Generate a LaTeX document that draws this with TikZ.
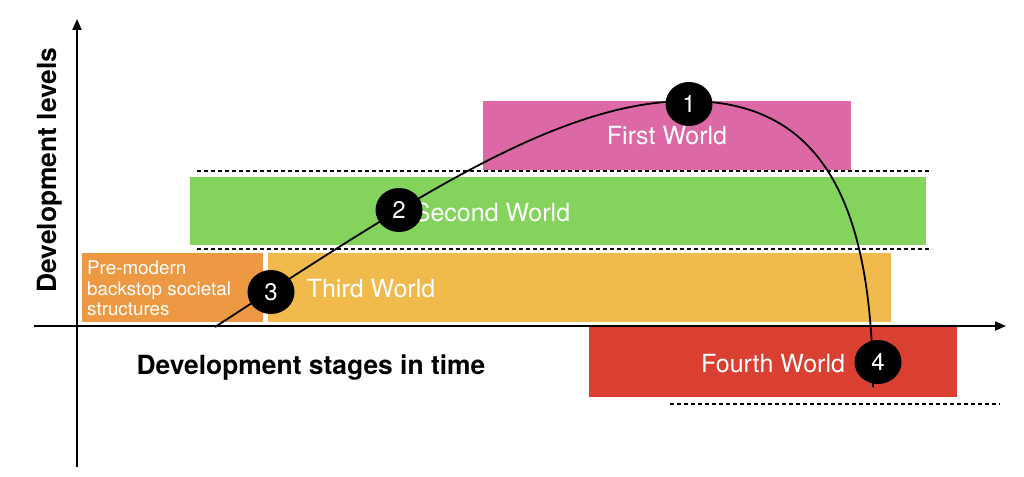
\documentclass[tikz,border=0pt]{standalone}
\usepackage{fontspec}
\setmainfont{TeX Gyre Heros}
\usetikzlibrary{arrows.meta,shapes.geometric}
\definecolor{pinkw}{RGB}{220,105,165}
\definecolor{greenw}{RGB}{131,211,93}
\definecolor{yelloww}{RGB}{240,186,77}
\definecolor{orangew}{RGB}{237,152,67}
\definecolor{redw}{RGB}{217,64,50}
\tikzset{
  box/.style={draw=none, inner sep=0pt, outer sep=0pt, anchor=north west},
  boxlabel/.style={text=white, inner sep=0pt, anchor=base, font=\fontsize{25}{25}\selectfont},
  smalllabel/.style={text=white, inner sep=0pt, anchor=base west, font=\fontsize{18.8}{18.8}\selectfont},
  axislabel/.style={text=black, inner sep=0pt, anchor=base, font=\bfseries\fontsize{26.4}{26.4}\selectfont},
  dotline/.style={line width=2pt, dash pattern=on 4pt off 3pt},
  axisline/.style={line width=2pt, -{Triangle[length=11pt,width=9pt]}},
  curveline/.style={line width=1.8pt},
  num/.style={ellipse, fill=black, text=white, inner sep=0pt, minimum width=47pt, minimum height=44pt, font=\fontsize{24}{24}\selectfont}
}
\begin{document}
\begin{tikzpicture}[x=1pt,y=-1pt]
\useasboundingbox (0,0) rectangle (1024,476);
% boxes
\node[box, fill=pinkw, minimum width=368pt, minimum height=69pt] (first) at (483,101) {};
\node[box, fill=greenw, minimum width=736pt, minimum height=68pt] (second) at (190,177) {};
\node[box, fill=yelloww, minimum width=623pt, minimum height=69pt] (third) at (268,253) {};
\node[box, fill=orangew, minimum width=181pt, minimum height=69pt] (premod) at (82,253) {};
\node[box, fill=redw, minimum width=368pt, minimum height=70pt] (fourth) at (589,327) {};
% dotted lines
\coordinate (d1a) at (197,171); \coordinate (d1b) at (932,171);
\coordinate (d2a) at (197,249); \coordinate (d2b) at (932,249);
\coordinate (d3a) at (670,404); \coordinate (d3b) at (1000,404);
\draw[dotline] (d1a) -- (d1b);
\draw[dotline] (d2a) -- (d2b);
\draw[dotline] (d3a) -- (d3b);
% labels
\node[boxlabel] (firstlab) at (667,144) {First World};
\node[boxlabel] (secondlab) at (492,221) {Second World};
\node[boxlabel] (thirdlab) at (371,297) {Third World};
\node[boxlabel] (fourthlab) at (773,372) {Fourth World};
\node[smalllabel] (pm1) at (87,274) {Pre-modern};
\node[smalllabel] (pm2) at (87,295) {backstop societal};
\node[smalllabel] (pm3) at (87,315) {structures};
% axes
\coordinate (yb) at (77,467); \coordinate (yt) at (77,19);
\coordinate (xl) at (34,326); \coordinate (xr) at (1006,326);
\draw[axisline] (yb) -- (yt);
\draw[axisline] (xl) -- (xr);
\node[axislabel] (xlab) at (311,374) {Development stages in time};
\node[axislabel, rotate=90] (ylab) at (56,170) {Development levels};
% curve
\coordinate (cs) at (215,327);
\coordinate (ctop) at (688,101);
\coordinate (ce) at (873,387);
\draw[curveline] (cs) .. controls (415,197) and (560,101) .. (ctop) .. controls (820,101) and (872,200) .. (ce);
% numbers
\node[num] (n1) at (689,104) {1};
\node[num] (n2) at (399,210) {2};
\node[num] (n3) at (271,292) {3};
\node[num] (n4) at (878,362) {4};
\end{tikzpicture}
\end{document}
